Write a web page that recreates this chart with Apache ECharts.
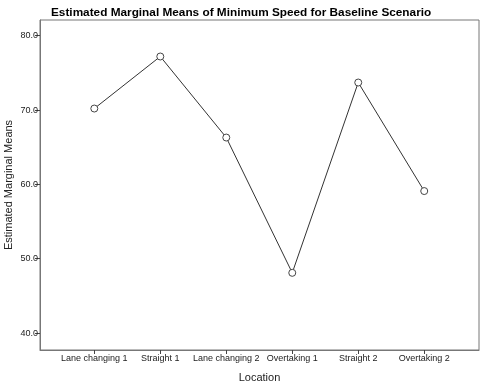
<!DOCTYPE html>
<html>
<head>
<meta charset="utf-8">
<script src="https://cdn.jsdelivr.net/npm/echarts@6/dist/echarts.min.js"></script>
<style>
  html, body { margin: 0; padding: 0; background: #fff; }
  #chart { width: 486px; height: 391px; }
</style>
</head>
<body>
<div id="chart"></div>
<script>
  // 資料
  const locations = ['Lane changing 1', 'Straight 1', 'Lane changing 2', 'Overtaking 1', 'Straight 2', 'Overtaking 2'];
  const means = [70.2, 77.2, 66.3, 48.1, 73.7, 59.1];
  const yTicks = [40, 50, 60, 70, 80];
  const xTicks = [0, 1, 2, 3, 4, 5];

  const chart = echarts.init(document.getElementById('chart'));
  chart.setOption({
    animation: false,
    title: {
      text: 'Estimated Marginal Means of Minimum Speed for Baseline Scenario',
      left: 46, top: 2,
      textStyle: { fontFamily: 'Liberation Sans', fontWeight: 'bold', fontSize: 11.8, color: '#000' }
    },
    grid: {
      left: 40, right: 7, top: 20, bottom: 41, outerBoundsMode: 'none',
      show: true, borderColor: '#777', borderWidth: 1, backgroundColor: '#fff'
    },
    xAxis: {
      type: 'value', min: -0.823, max: 5.83,
      name: 'Location', nameLocation: 'middle', nameGap: 22, nameMoveOverlap: false,
      nameTextStyle: { fontFamily: 'Liberation Sans', fontSize: 11, color: '#222' },
      axisLine: { show: true, onZero: false, lineStyle: { color: '#777' } },
      axisTick: { show: true, length: 4, customValues: xTicks, lineStyle: { color: '#444' } },
      axisLabel: { customValues: xTicks, formatter: v => locations[v], fontFamily: 'Liberation Sans', fontSize: 9, color: '#222', margin: 4 },
      splitLine: { show: false }
    },
    yAxis: {
      type: 'value', min: 37.72, max: 82.11,
      name: 'Estimated Marginal Means', nameLocation: 'middle', nameGap: 26, nameMoveOverlap: false,
      nameTextStyle: { fontFamily: 'Liberation Sans', fontSize: 11, color: '#222' },
      axisLine: { show: true, onZero: false, lineStyle: { color: '#777' } },
      axisTick: { show: true, length: 5, customValues: yTicks, lineStyle: { color: '#444' } },
      axisLabel: { customValues: yTicks, formatter: v => v.toFixed(1), fontFamily: 'Liberation Sans', fontSize: 9, color: '#222', margin: 2 },
      splitLine: { show: false }
    },
    series: [{
      type: 'line',
      data: means.map((v, i) => [i, v]),
      symbol: 'circle', symbolSize: 7,
      lineStyle: { color: '#333', width: 1 },
      itemStyle: { color: '#fff', borderColor: '#444', borderWidth: 1 }
    }]
  });
</script>
</body>
</html>
